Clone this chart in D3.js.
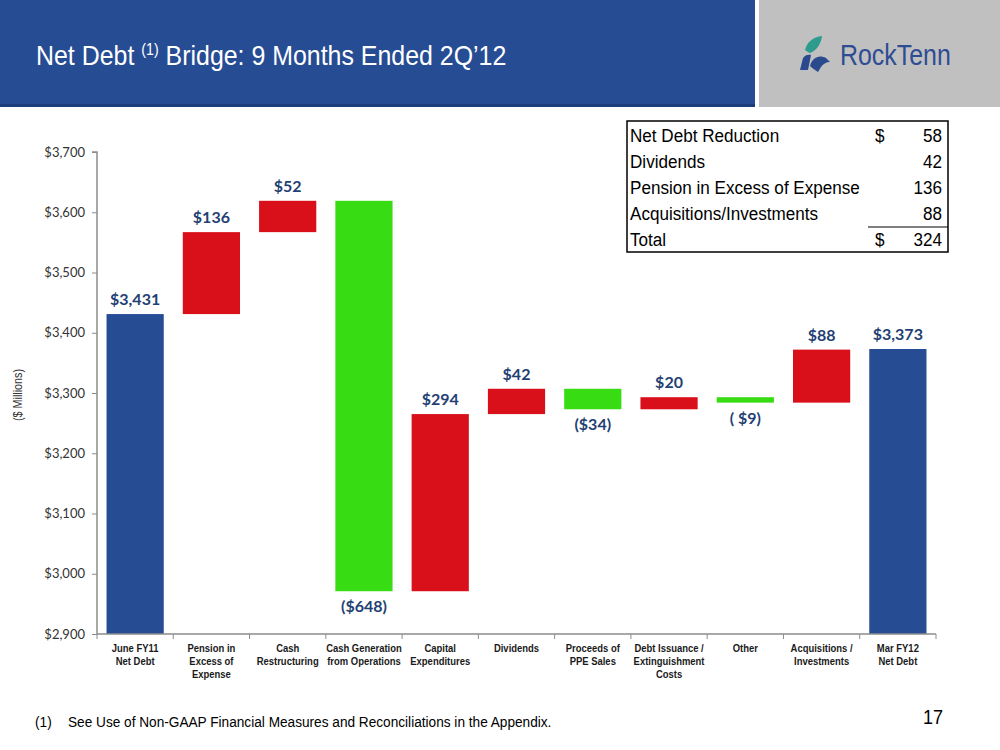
<!DOCTYPE html>
<html><head><meta charset="utf-8">
<script src="https://cdn.jsdelivr.net/npm/d3@7"></script>
<style>
body{margin:0;background:#fff;}
svg{display:block;}
</style></head>
<body>
<svg id="chart" width="1000" height="750"></svg>
<script>
const categories = [
  ["June FY11","Net Debt"],
  ["Pension in","Excess of","Expense"],
  ["Cash","Restructuring"],
  ["Cash Generation","from Operations"],
  ["Capital","Expenditures"],
  ["Dividends"],
  ["Proceeds of","PPE Sales"],
  ["Debt Issuance /","Extinguishment","Costs"],
  ["Other"],
  ["Acquisitions /","Investments"],
  ["Mar FY12","Net Debt"]
];
const kinds = ["total","up","up","down","up","up","down","up","down","up","total"];
const values = [3431, 136, 52, -648, 294, 42, -34, 20, -9, 88, 3373];
const valueLabels = ["$3,431","$136","$52","($648)","$294","$42","($34)","$20","( $9)","$88","$3,373"];
const yTicks = [2900,3000,3100,3200,3300,3400,3500,3600,3700];
const tableRows = [
  ["Net Debt Reduction","$","58"],
  ["Dividends","","42"],
  ["Pension in Excess of Expense","","136"],
  ["Acquisitions/Investments","","88"],
  ["Total","$","324"]
];

const svg = d3.select("#chart");
const narrow = "'Liberation Sans',Arial,sans-serif";
const labelFont = "Lato, 'Open Sans', sans-serif";

function ntext(g, x, y, str, size, sx, anchor){
  const t = g.append("text").attr("transform",`translate(${x},${y}) scale(${sx},1)`)
    .attr("text-anchor",anchor||"start").style("font-family",narrow).style("font-size",size+"px");
  if(str!==null) t.text(str);
  return t;
}

// header
svg.append("rect").attr("x",0).attr("y",0).attr("width",755).attr("height",107).attr("fill","#264C94");
svg.append("rect").attr("x",0).attr("y",104).attr("width",755).attr("height",3).attr("fill","#1D3E7C");
svg.append("rect").attr("x",759).attr("y",0).attr("width",241).attr("height",107).attr("fill","#C0C0C0");
const t = ntext(svg, 36, 65, null, 28, 0.89).attr("fill","#fff");
t.append("tspan").text("Net Debt ");
t.append("tspan").attr("dy",-10).style("font-size","16px").text("(1)");
t.append("tspan").attr("dy",10).text(" Bridge: 9 Months Ended 2Q\u201912");

// logo
const logo = svg.append("g").attr("transform","translate(799,36)");
logo.append("path").attr("d","M6,14 C8,6 14,1 23,0 C22,8 18,14 11,17 C9,16 7,15 6,14 Z").attr("fill","#2E9C8C");
logo.append("path").attr("d","M1,34 L4,22 C6,19 9,18 12,19 L9,34 Z").attr("fill","#2B4A8E");
logo.append("path").attr("d","M11,30 C13,22 20,18 27,22 L31,26 C27,26 24,28 22,31 L19,36 C16,34 13,32 11,30 Z").attr("fill","#2B4A8E");
ntext(svg, 840, 65, "RockTenn", 29, 0.86).attr("fill","#2E4C93");

// table
const tb = svg.append("g");
tb.append("rect").attr("x",627).attr("y",121).attr("width",321).attr("height",131)
  .attr("fill","#fff").attr("stroke","#000").attr("stroke-width",1.5);
tb.append("line").attr("x1",868).attr("x2",948).attr("y1",227).attr("y2",227).attr("stroke","#000").attr("stroke-width",1.2);
tableRows.forEach((r,i)=>{
  const yy = 142 + i*26;
  ntext(tb, 630, yy, r[0], 19, 0.9).attr("fill","#000");
  ntext(tb, 875, yy, r[1], 19, 0.9).attr("fill","#000");
  ntext(tb, 942, yy, r[2], 19, 0.9, "end").attr("fill","#000");
});

// chart
const x0 = 97, x1 = 936, yTop = 152, yBot = 634;
const x = d3.scaleBand().domain(d3.range(categories.length)).range([x0,x1]).paddingInner(0.25).paddingOuter(0.125);
const y = d3.scaleLinear().domain([2900,3700]).range([yBot,yTop]);

let run = 0;
const bars = values.map((v,i)=>{
  let lo, hi;
  if(kinds[i]==="total"){ lo=2900; hi=v; run=v; }
  else { const s=run; run=run+v; lo=Math.min(s,run); hi=Math.max(s,run); }
  return {i, lo, hi, kind:kinds[i], label:valueLabels[i]};
});
const colors = {total:"#264C94", up:"#D90F19", down:"#38DC12"};

svg.append("g").selectAll("rect").data(bars).join("rect")
  .attr("x",d=>x(d.i)).attr("width",x.bandwidth())
  .attr("y",d=>y(d.hi)).attr("height",d=>y(d.lo)-y(d.hi))
  .attr("fill",d=>colors[d.kind]);

svg.append("g").selectAll("text").data(bars).join("text")
  .attr("x",d=>x(d.i)+x.bandwidth()/2)
  .attr("y",d=>d.kind==="down"? y(d.lo)+21 : y(d.hi)-9)
  .attr("text-anchor","middle")
  .style("font-family",labelFont).style("font-weight","bold").style("font-size","16px")
  .attr("fill","#243F73").text(d=>d.label);

// y axis
const yAxis = d3.axisLeft(y).tickValues(yTicks).tickSize(5).tickFormat(d=>"$"+d3.format(",")(d));
const ga = svg.append("g").attr("transform",`translate(${x0},0)`).call(yAxis);
ga.select(".domain").attr("stroke","#8C8C8C").attr("stroke-width",1.5).attr("d",`M-5,${yTop}H0V${yBot}`);
ga.selectAll(".tick line").attr("stroke","#8C8C8C");
ga.selectAll(".tick text").attr("x",-12).style("font-family",labelFont).style("font-size","13px").attr("fill","#333");

ntext(svg, 0, 0, "($ Millions)", 12, 0.9, "middle").attr("fill","#333")
  .attr("transform",`translate(22,${(yTop+yBot)/2+2}) rotate(-90) scale(0.9,1)`);

// x axis
const gx = svg.append("g");
gx.append("line").attr("x1",x0).attr("x2",x1).attr("y1",yBot).attr("y2",yBot).attr("stroke","#8C8C8C").attr("stroke-width",1.5);
const step = x.step();
d3.range(categories.length+1).forEach(k=>{
  const xx = x(0) - x.paddingOuter()*step + k*step;
  gx.append("line").attr("x1",xx).attr("x2",xx).attr("y1",yBot).attr("y2",yBot+5).attr("stroke","#8C8C8C");
});
categories.forEach((lines,i)=>{
  const tx = ntext(gx, x(i)+x.bandwidth()/2, 652, null, 11, 0.86, "middle")
    .style("font-weight","bold").attr("fill","#1a1a1a");
  lines.forEach((l,j)=>tx.append("tspan").attr("x",0).attr("dy",j?13:0).text(l));
});

// footer
ntext(svg, 35, 727, "(1)", 15, 0.91).attr("fill","#000");
ntext(svg, 68, 727, "See Use of Non-GAAP Financial Measures and Reconciliations in the Appendix.", 15, 0.91).attr("fill","#000");
ntext(svg, 943, 724, "17", 20, 0.9, "end").attr("fill","#000");
</script>
</body></html>
